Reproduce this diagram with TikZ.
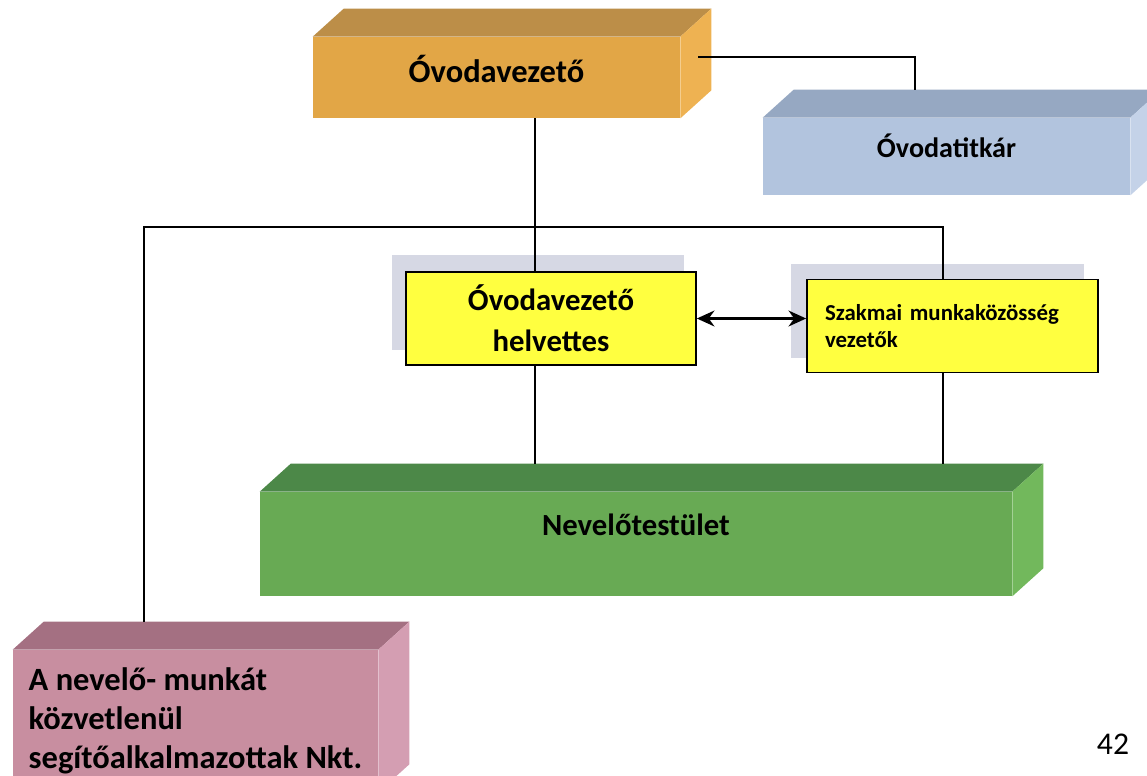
\documentclass[tikz,border=0pt]{standalone}
\usepackage{fontspec}
\setmainfont{Carlito}
\usepackage{xcolor}
\usepackage{tikz}
\usetikzlibrary{shapes,arrows,arrows.meta,positioning,backgrounds}
\definecolor{narancs}{RGB}{226,166,70}
\definecolor{narancsTop}{RGB}{188,142,72}
\definecolor{narancsSide}{RGB}{238,178,82}
\definecolor{kek}{RGB}{178,196,222}
\definecolor{kekTop}{RGB}{150,168,194}
\definecolor{kekSide}{RGB}{196,210,232}
\definecolor{sarga}{RGB}{255,255,64}
\definecolor{szurke}{RGB}{214,216,228}
\definecolor{zold}{RGB}{104,170,84}
\definecolor{zoldTop}{RGB}{76,136,72}
\definecolor{zoldSide}{RGB}{114,184,92}
\definecolor{rozsa}{RGB}{200,142,160}
\definecolor{rozsaTop}{RGB}{164,112,130}
\definecolor{rozsaSide}{RGB}{212,158,178}

\begin{document}
\begin{tikzpicture}[
	x=0.02cm, y=-0.02cm,
	doboz/.style={rectangle, inner sep=0pt, text height=12pt},
	sargabox/.style={rectangle, draw=black, line width=1pt, fill=sarga},
	vonal/.style={line width=1pt, black},
	nyil/.style={{Stealth[length=10pt,width=9pt]}-{Stealth[length=10pt,width=9pt]}, line width=1.6pt}
	]
	\useasboundingbox (0,0) rectangle (1147,775);
	
	\node[doboz, fill=narancs, minimum width=7.34cm, minimum height=1.62cm, text depth=6.8pt,
		font=\fontsize{18.5}{22}\selectfont\bfseries] (vez) at (496.5,77.5) {Óvodavezető};
	\node[doboz, fill=kek, minimum width=7.34cm, minimum height=1.54cm, text depth=10.3pt,
		font=\fontsize{16}{20}\selectfont\bfseries] (titk) at (946.5,156.5) {Óvodatitkár};
	\node[sargabox, minimum width=5.8cm, minimum height=1.86cm, align=center,
		font=\fontsize{17.5}{23.3}\selectfont\bfseries] (hely) at (551,318.5) {Óvodavezető\\helvettes};
	\node[sargabox, minimum height=1.86cm, text width=5.1cm, inner xsep=0.36cm, align=left,
		font=\fontsize{13}{15.4}\selectfont\bfseries] (szak) at (952.5,326) {Szakmai munkaközösség\\vezetők};
	\node[doboz, fill=zold, minimum width=15.04cm, minimum height=2.08cm, text depth=22.2pt,
		font=\fontsize{17.5}{20}\selectfont\bfseries] (nev) at (636,544) {Nevelőtestület};
	\node[rectangle, inner sep=0pt, fill=rozsa, minimum width=7.3cm, minimum height=2.84cm, align=left,
		font=\fontsize{18.5}{22.3}\selectfont\bfseries] (seg) at (195.5,721)
		{A nevelő- munkát\\közvetlenül\\segítőalkalmazottak Nkt.};
	\node[font=\fontsize{18}{20}\selectfont] (oldal) at (1113,744) {42};
	
	\foreach \n/\t/\s in {vez/narancsTop/narancsSide, titk/kekTop/kekSide, nev/zoldTop/zoldSide, seg/rozsaTop/rozsaSide}{
		\fill[fill=\t] (\n.north west) -- (\n.north east) -- ++(31,-28) -- ([shift={(31,-28)}]\n.north west) -- cycle;
		\fill[fill=\s] (\n.north east) -- ++(31,-28) -- ([shift={(31,-28)}]\n.south east) -- (\n.south east) -- cycle;
	}
	
	\begin{scope}[on background layer]
		\foreach \n/\dx/\dy in {hely/-13/-16, szak/-15/-15}
			\fill[szurke] ([shift={(\dx,\dy)}]\n.north west) rectangle ([shift={(\dx,\dy)}]\n.south east);
	\end{scope}
	
	\coordinate (gerinc) at (535,0);
	\coordinate (jobbag) at (943,227);
	\coordinate (titkbe) at (915,90);
	\coordinate (vezki) at (698,57);
	\coordinate (segbe) at (144,622);
	\coordinate (nevteto) at (0,464);
	
	\draw[vonal] (vezki) -| (titkbe);
	\draw[vonal] (vez.south -| gerinc) -- (hely.north -| gerinc);
	\draw[vonal] (hely.south -| gerinc) -- (gerinc |- nevteto);
	\draw[vonal] (segbe) |- (jobbag) -- (szak.north -| jobbag);
	\draw[vonal] (szak.south -| jobbag) -- (jobbag |- nevteto);
	\draw[nyil] (hely.east) -- (hely.east -| szak.west);
\end{tikzpicture}
\end{document}
